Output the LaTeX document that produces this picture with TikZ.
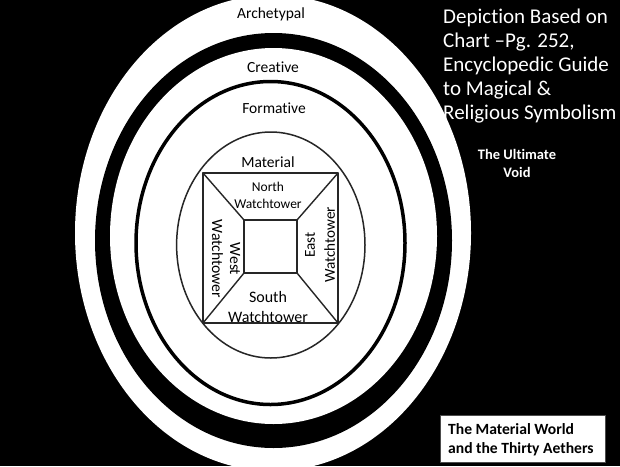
\documentclass[tikz,border=0pt]{standalone}
\usepackage{fontspec}
\setmainfont{Carlito}[Ligatures=NoCommon]
\begin{document}
\begin{tikzpicture}[x=1pt,y=-1pt,
  lbl/.style={font=\fontsize{15.5}{18}\selectfont, text=black, inner sep=0pt},
  wt/.style={align=center, text=black, inner sep=0pt},
  head/.style={font=\fontsize{21}{24}\selectfont, text=white, inner sep=0pt, anchor=base west},
  void/.style={font=\fontsize{14.5}{18}\selectfont\bfseries, text=white, inner sep=0pt, anchor=base},
  boxtxt/.style={font=\fontsize{15.6}{19}\selectfont\bfseries, text=black, inner sep=0pt, anchor=base west},
  sqline/.style={draw=black!85, line width=1.4pt, line cap=round, line join=round}]
\fill[black] (0,0) rectangle (620,466);
\useasboundingbox (0,0) rectangle (620,466);
\begin{scope}
\clip (0,0) rectangle (620,466);
% outer white ellipse (Archetypal)
\fill[white] (273,233) ellipse [x radius=198, y radius=238];
% thick black ring
\fill[black] (273.5,240.5) ellipse [x radius=178.5, y radius=207.5];
\fill[white] (273.5,236) ellipse [x radius=163.5, y radius=188];
% thin ring (Formative boundary)
\draw[black, line width=3.5pt] (270.5,243) ellipse [x radius=134.5, y radius=161.5];
% Material ellipse
\draw[black!85, line width=1.5pt] (270.8,245) ellipse [x radius=94.2, y radius=113];
\end{scope}
% square
\coordinate (o1) at (203,173);
\coordinate (o2) at (338,173);
\coordinate (o3) at (338,323);
\coordinate (o4) at (203,323);
\coordinate (i1) at (244,220);
\coordinate (i2) at (297,220);
\coordinate (i3) at (297,273);
\coordinate (i4) at (244,273);
\draw[sqline] (o1) -- (o2) -- (o3) -- (o4) -- cycle;
\draw[sqline] (i1) -- (i2) -- (i3) -- (i4) -- cycle;
\draw[sqline] (o1) -- (i1);
\draw[sqline] (o2) -- (i2);
\draw[sqline] (o3) -- (i3);
\draw[sqline] (o4) -- (i4);
% labels
\node[lbl] (arch) at (271,14) {Archetypal};
\node[lbl] (crea) at (273,67) {Creative};
\node[lbl] (form) at (274,108) {Formative};
\node[lbl] (mat) at (268,162) {Material};
\node[wt, font=\fontsize{13.5}{17}\selectfont] (north) at (268,195) {North\\Watchtower};
\node[wt, font=\fontsize{16}{20}\selectfont] (south) at (268,307) {South\\Watchtower};
\node[wt, font=\fontsize{15.7}{18}\selectfont, rotate=-90] (west) at (226,259) {West\\Watchtower};
\node[wt, font=\fontsize{15.2}{20}\selectfont, rotate=90] (east) at (320,245) {East\\Watchtower};
% heading
\node[head] (h1) at (443,23) {Depiction Based on};
\node[head] (h2) at (443,47) {Chart –Pg. 252,};
\node[head] (h3) at (443,71) {Encyclopedic Guide};
\node[head] (h4) at (443,95) {to Magical \&};
\node[head] (h5) at (443,119) {Religious Symbolism};
\node[void] (v1) at (517,159) {The Ultimate};
\node[void] (v2) at (517,177) {Void};
% bottom box
\draw[fill=white, draw=black!70, line width=1pt] (440,415) rectangle (605,462);
\node[boxtxt] (b1) at (448,434) {The Material World};
\node[boxtxt] (b2) at (448,453) {and the Thirty Aethers};
\end{tikzpicture}
\end{document}
